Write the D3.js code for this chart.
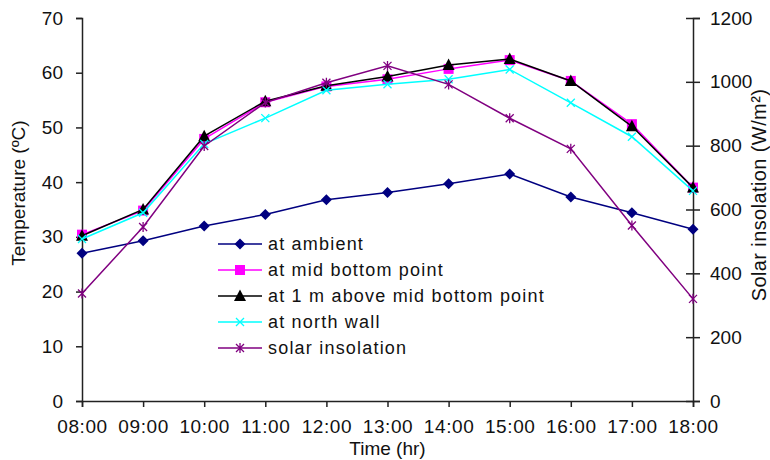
<!DOCTYPE html>
<html>
<head>
<meta charset="utf-8">
<script src="https://cdn.jsdelivr.net/npm/d3@7"></script>
<style>
  body { margin: 0; background: #fff; }
  svg text { font-family: "Liberation Sans", Arial, sans-serif; fill: #111; }
</style>
</head>
<body>
<script>
// hours on the x axis
var hours = ["08:00","09:00","10:00","11:00","12:00","13:00","14:00","15:00","16:00","17:00","18:00"];

// temperatures (deg C), left axis
var ambient   = [27.0, 29.3, 32.0, 34.1, 36.8, 38.1, 39.7, 41.5, 37.3, 34.4, 31.4];
var midBottom = [30.4, 34.8, 47.9, 54.6, 57.5, 58.8, 60.7, 62.3, 58.5, 50.6, 39.0];
var above1m   = [30.2, 35.0, 48.4, 54.8, 57.6, 59.3, 61.4, 62.5, 58.5, 50.2, 39.0];
var northWall = [29.6, 34.4, 47.0, 51.7, 56.8, 57.9, 58.8, 60.6, 54.5, 48.3, 38.4];

// solar insolation (W/m2), right axis
var solar = [337, 545, 799, 935, 997, 1050, 992, 886, 790, 550, 320];

var tempTicks = [0,10,20,30,40,50,60,70];
var solarTicks = [0,200,400,600,800,1000,1200];

var width = 770, height = 460;
var plot = {left: 82, right: 693, top: 18, bottom: 401};

var svg = d3.select("body").append("svg")
    .attr("width", width)
    .attr("height", height);

var x = d3.scalePoint().domain(hours).range([plot.left, plot.right]);
var yT = d3.scaleLinear().domain([0, 70]).range([plot.bottom, plot.top]);
var yS = d3.scaleLinear().domain([0, 1200]).range([plot.bottom, plot.top]);

// axes
var xAxis = svg.append("g")
    .attr("transform", "translate(0," + plot.bottom + ")")
    .call(d3.axisBottom(x).tickSize(6).tickPadding(13));
var yAxis = svg.append("g")
    .attr("transform", "translate(" + plot.left + ",0)")
    .call(d3.axisLeft(yT).tickValues(tempTicks).tickSize(6).tickPadding(13));
var y2Axis = svg.append("g")
    .attr("transform", "translate(" + plot.right + ",0)")
    .call(d3.axisRight(yS).tickValues(solarTicks).tickFormat(d3.format("d")).tickSize(7).tickPadding(10));

[xAxis, yAxis, y2Axis].forEach(function(a) {
  a.select(".domain").attr("stroke", "#222").attr("stroke-width", 1.5);
  a.selectAll(".tick line").attr("stroke", "#222").attr("stroke-width", 1.5);
  a.selectAll("text").style("font-size", "19px").attr("fill", "#111")
    .style("font-family", "'Liberation Sans', Arial, sans-serif");
});
xAxis.selectAll(".tick text").style("letter-spacing", "0.6px");
// right axis ticks cross the line
y2Axis.selectAll(".tick line").attr("x1", -7);
xAxis.selectAll(".tick text").attr("dy", "0.71em");

// axis titles
svg.append("text")
  .attr("transform", "translate(25,193) rotate(-90)")
  .attr("text-anchor", "middle")
  .style("font-size", "19px")
  .text("Temperature (ºC)");
svg.append("text")
  .attr("transform", "translate(766,195) rotate(-90)")
  .attr("text-anchor", "middle")
  .style("font-size", "20px")
  .style("letter-spacing", "0.4px")
  .text("Solar insolation (W/m²)");
svg.append("text")
  .attr("x", (plot.left + plot.right) / 2)
  .attr("y", 455)
  .attr("text-anchor", "middle")
  .style("font-size", "19px")
  .text("Time (hr)");

var series = [
  {name: "at ambient", values: ambient, color: "#000080", marker: "diamond", y: yT},
  {name: "at mid bottom point", values: midBottom, color: "#ff00ff", marker: "square", y: yT},
  {name: "at 1 m above mid bottom point", values: above1m, color: "#000000", marker: "triangle", y: yT},
  {name: "at north wall", values: northWall, color: "#00ffff", marker: "cross", y: yT},
  {name: "solar insolation", values: solar, color: "#800080", marker: "star", y: yS}
];

function drawMarker(g, type, color) {
  if (type == "diamond") {
    g.append("path").attr("d", "M0,-5.5L5.5,0L0,5.5L-5.5,0Z").attr("fill", color);
  } else if (type == "square") {
    g.append("rect").attr("x", -5).attr("y", -5).attr("width", 10).attr("height", 10).attr("fill", color);
  } else if (type == "triangle") {
    g.append("path").attr("d", "M0,-6.5L6,5L-6,5Z").attr("fill", color);
  } else if (type == "cross") {
    g.append("path").attr("d", "M-4,-4L4,4M-4,4L4,-4").attr("stroke", color).attr("stroke-width", 1.3);
  } else {
    g.append("path").attr("d", "M-4,-4L4,4M-4,4L4,-4M0,-5L0,5").attr("stroke", color).attr("stroke-width", 1.3);
  }
}

series.forEach(function(s) {
  var line = d3.line()
    .x(function(d, i) { return x(hours[i]); })
    .y(function(d) { return s.y(d); });
  svg.append("path")
    .datum(s.values)
    .attr("fill", "none")
    .attr("stroke", s.color)
    .attr("stroke-width", 1.5)
    .attr("d", line);
  svg.selectAll(null)
    .data(s.values)
    .enter().append("g")
    .attr("transform", function(d, i) { return "translate(" + x(hours[i]) + "," + s.y(d) + ")"; })
    .each(function() { drawMarker(d3.select(this), s.marker, s.color); });
});

// legend
var legend = svg.append("g").attr("transform", "translate(218,244)");
series.forEach(function(s, i) {
  var row = legend.append("g").attr("transform", "translate(0," + (i * 26) + ")");
  row.append("line").attr("x1", 0).attr("x2", 44)
    .attr("stroke", s.color).attr("stroke-width", 1.5);
  drawMarker(row.append("g").attr("transform", "translate(22,0)"), s.marker, s.color);
  row.append("text")
    .attr("x", 50)
    .attr("dy", "0.35em")
    .style("font-size", "18px")
    .style("letter-spacing", "1.2px")
    .text(s.name);
});
</script>
</body>
</html>
